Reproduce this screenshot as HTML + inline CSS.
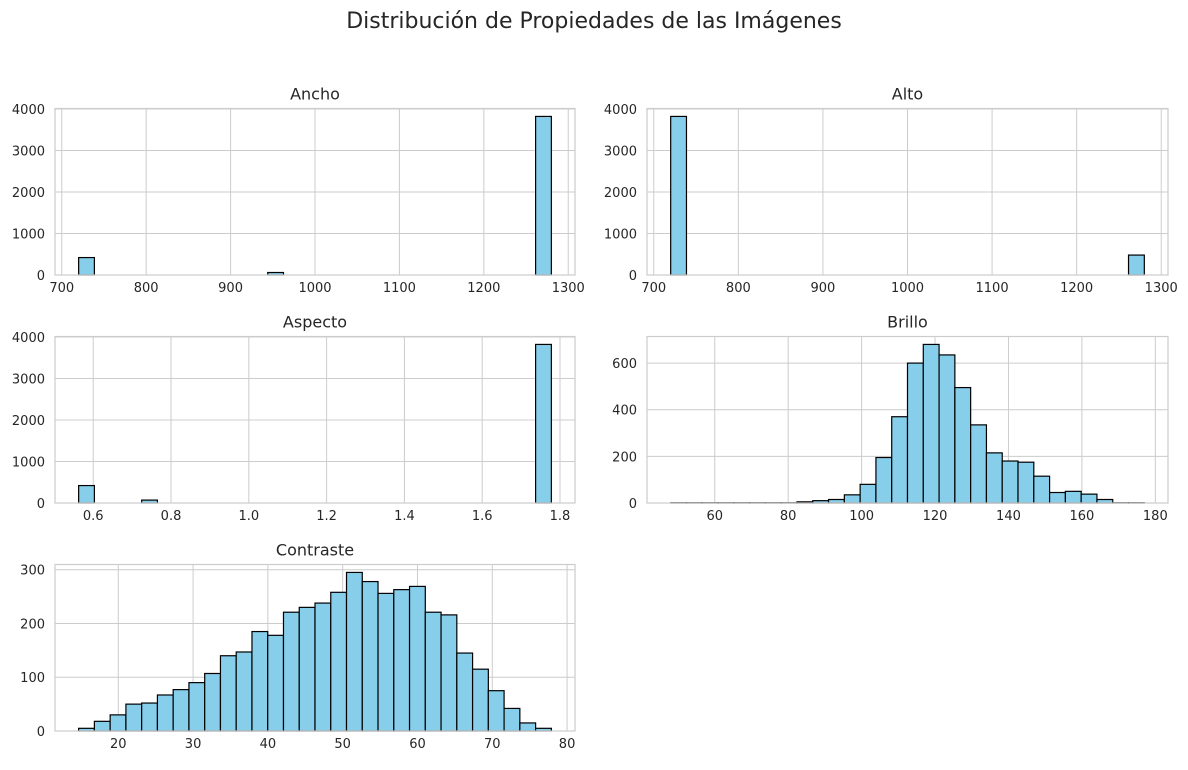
<!DOCTYPE html>
<html><head><meta charset="utf-8"><style>
body{margin:0;background:#fff;font-family:"Liberation Sans","DejaVu Sans",sans-serif}
svg text{font-family:"DejaVu Sans","Liberation Sans",sans-serif;fill:#262626}
</style></head><body>
<svg id="c" width="1188" height="765" xmlns="http://www.w3.org/2000/svg">
<text x="594" y="28" font-size="22" text-anchor="middle">Distribución de Propiedades de las Imágenes</text>
</svg>
<script>
const anchoCounts=[420,0,0,0,0,0,0,0,0,0,0,0,60,0,0,0,0,0,0,0,0,0,0,0,0,0,0,0,0,3820];
const altoCounts=[3820,0,0,0,0,0,0,0,0,0,0,0,0,0,0,0,0,0,0,0,0,0,0,0,0,0,0,0,0,480];
const aspectoCounts=[420,0,0,0,70,0,0,0,0,0,0,0,0,0,0,0,0,0,0,0,0,0,0,0,0,0,0,0,0,3820];
const brilloCounts=[1,1,1,1,1,1,1,1,5,10,15,35,80,195,370,600,680,635,495,335,215,180,175,115,45,50,38,15,1,1];
const contrasteCounts=[5,18,30,50,52,67,77,90,107,140,147,185,178,221,230,238,258,295,278,256,263,269,221,216,145,115,75,42,15,5];
const bigTicks=[0,1000,2000,3000,4000];
const pxTicks=[700,800,900,1000,1100,1200,1300];
const aspTicks=[0.6,0.8,1.0,1.2,1.4,1.6,1.8];
const briXTicks=[60,80,100,120,140,160,180];
const briYTicks=[0,200,400,600];
const conXTicks=[20,30,40,50,60,70,80];
const conYTicks=[0,100,200,300];
const NS='http://www.w3.org/2000/svg';
const svg=document.getElementById('c');
function mk(t,a,p){const e=document.createElementNS(NS,t);for(const k in a)e.setAttribute(k,a[k]);(p||svg).appendChild(e);return e;}
function panel(name,title,L,R,T,B,lo,hi,counts,xt,yt,xfmt){
 const g=mk('g',{});
 
 
 const n=counts.length,w=(hi-lo)/n,pad=(hi-lo)*0.05;
 const x0=lo-pad,x1=hi+pad;
 const ymax=Math.max(...counts)*1.05;
 const X=v=>L+(v-x0)/(x1-x0)*(R-L);
 const Y=v=>B-v/ymax*(B-T);
 xt.forEach(v=>{const gl=mk('line',{x1:X(v),x2:X(v),y1:T,y2:B,stroke:'#cccccc','stroke-width':1},g);
  
  const t=mk('text',{x:X(v),y:B+17,'font-size':13,'text-anchor':'middle'},g);t.textContent=xfmt(v);
  });
 yt.forEach(v=>{const gl=mk('line',{x1:L,x2:R,y1:Y(v),y2:Y(v),stroke:'#cccccc','stroke-width':1},g);
  
  const t=mk('text',{x:L-10,y:Y(v)+5,'font-size':13,'text-anchor':'end'},g);t.textContent=v;
  });
 counts.forEach((c,i)=>{const a=X(lo+i*w),b=X(lo+(i+1)*w);
  const r=mk('rect',{x:a,y:Y(c),width:b-a,height:B-Y(c),fill:'#87ceeb',stroke:'#000','stroke-width':1.2},g);
  });
 const f=mk('rect',{x:L,y:T,width:R-L,height:B-T,fill:'none',stroke:'#cccccc','stroke-width':1.2},g);
 
 const tt=mk('text',{x:(L+R)/2,y:T-9,'font-size':16,'text-anchor':'middle'},g);tt.textContent=title;
 
}
const i0=v=>String(v),f1=v=>v.toFixed(1);
panel('ancho','Ancho',55,575,108.5,275,720,1280,anchoCounts,pxTicks,bigTicks,i0);
panel('alto','Alto',647,1168,108.5,275,720,1280,altoCounts,pxTicks,bigTicks,i0);
panel('aspecto','Aspecto',55,575,336.5,503,0.5625,1.7778,aspectoCounts,aspTicks,bigTicks,f1);
panel('brillo','Brillo',647,1168,336.5,503,48,177,brilloCounts,briXTicks,briYTicks,i0);
panel('contraste','Contraste',55,575,564.5,731,14.7,77.9,contrasteCounts,conXTicks,conYTicks,i0);
</script>
</body></html>
